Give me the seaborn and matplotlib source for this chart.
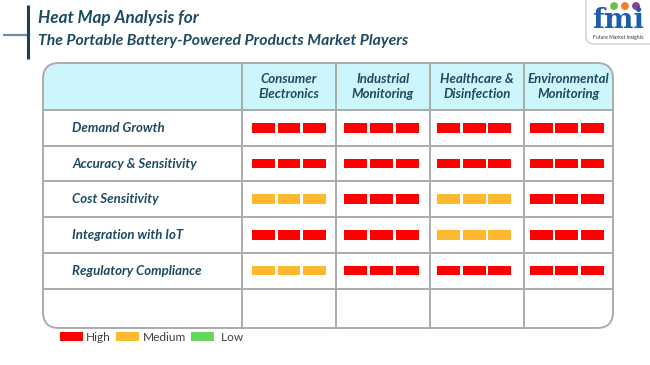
import numpy as np
import pandas as pd
import matplotlib
matplotlib.use("Agg")
import matplotlib.pyplot as plt
from matplotlib.patches import FancyBboxPatch, Rectangle, Patch
import seaborn as sns

sns.set_theme(style="white")
plt.rcParams['font.family'] = ['Lato', 'DejaVu Sans']

# ---------------- data ----------------
title_line1 = "Heat Map Analysis for"
title_line2 = "The Portable Battery-Powered Products Market Players"
segments = ["Consumer\nElectronics", "Industrial\nMonitoring",
            "Healthcare &\nDisinfection", "Environmental\nMonitoring"]
factors = ["Demand Growth", "Accuracy & Sensitivity", "Cost Sensitivity",
           "Integration with IoT", "Regulatory Compliance"]
levels_consumer = ["High", "High", "Medium", "High", "Medium"]
levels_industrial = ["High", "High", "High", "High", "High"]
levels_healthcare = ["High", "High", "Medium", "Medium", "High"]
levels_environmental = ["High", "High", "High", "High", "High"]
level_names = ["High", "Medium", "Low"]
level_colors = {"High": "#FF0000", "Medium": "#FFB92E", "Low": "#66D65E"}

TEXT = "#1E4A62"
GRID = "#ABABAB"

# long table: one row per small bar (three bars per cell)
cols = [levels_consumer, levels_industrial, levels_healthcare, levels_environmental]
records = []
for ci, col in enumerate(cols):
    for ri, lvl in enumerate(col):
        for k in (-1, 0, 1):
            records.append({"x": ci + k * 0.2775, "row": ri, "level": lvl})
df = pd.DataFrame(records)

# ---------------- figure ----------------
W, H = 650, 365
fig = plt.figure(figsize=(W / 100, H / 100), dpi=100)
bg = fig.add_axes([0, 0, 1, 1])
bg.set_xlim(0, W)
bg.set_ylim(H, 0)
bg.axis("off")

# title decoration
bg.plot([3, 28], [35, 35], color="#6E8FA3", lw=1.6, solid_capstyle="butt")
bg.plot([28, 28], [5, 59], color="#1E3F5A", lw=2.2, solid_capstyle="butt")
bg.text(38, 18.5, title_line1, fontsize=12.3, fontweight="bold", fontstyle="italic",
        color=TEXT, va="center", ha="left")
bg.text(38, 40.5, title_line2, fontsize=11.3, fontweight="bold", fontstyle="italic",
        color=TEXT, va="center", ha="left")

# logo
logo = FancyBboxPatch((586, -10), 80, 54, boxstyle="round,pad=0,rounding_size=8",
                      facecolor="white", edgecolor="#C9D3DA", lw=1)
bg.add_patch(logo)
bg.text(618, 20, "fmi", fontsize=20, fontweight="bold", family="DejaVu Serif",
        color="#1C5DB0", ha="center", va="center")
bg.text(618, 38, "Future Market Insights", fontsize=3.6, color="#333333",
        ha="center", va="center")
for cx, c in zip([614, 625, 636], ["#6CC04A", "#F07D2A", "#8E3D97"]):
    bg.add_patch(plt.Circle((cx, 6), 3.2, color=c))

# table geometry (pixels)
tl, tr, tt, tb = 43, 613, 63, 328
hdr_b = 110
row_lines = [110, 145.7, 181.3, 217, 252.7, 288.5]
col_lines = [242, 336, 430, 523.5]

table_bg = FancyBboxPatch((tl, tt), tr - tl, tb - tt,
                          boxstyle="round,pad=0,rounding_size=16",
                          facecolor="white", edgecolor="none")
bg.add_patch(table_bg)
header = FancyBboxPatch((tl, tt), tr - tl, 80,
                        boxstyle="round,pad=0,rounding_size=16",
                        facecolor="#CCF6FC", edgecolor="none")
bg.add_patch(header)
header.set_clip_path(Rectangle((tl, tt), tr - tl, hdr_b - tt, transform=bg.transData))

for y in row_lines:
    bg.plot([tl, tr], [y, y], color=GRID, lw=1.4)
for x in col_lines:
    bg.plot([x, x], [tt, tb], color=GRID, lw=1.4)
outline = FancyBboxPatch((tl, tt), tr - tl, tb - tt,
                         boxstyle="round,pad=0,rounding_size=16",
                         facecolor="none", edgecolor=GRID, lw=1.4)
bg.add_patch(outline)

# header labels
edges = col_lines + [tr]
for i, seg in enumerate(segments):
    cx = (edges[i] + edges[i + 1]) / 2
    bg.text(cx, 86.5, seg, fontsize=9.5, fontweight="bold", fontstyle="italic",
            color=TEXT, ha="center", va="center", linespacing=1.25)

# row labels
for i, f in enumerate(factors):
    cy = (row_lines[i] + row_lines[i + 1]) / 2
    bg.text(72.5, cy, f, fontsize=9.5, fontweight="bold", fontstyle="italic",
            color=TEXT, ha="left", va="center")

# heat-map bars
ax = fig.add_axes([242.7 / W, (H - 288.5) / H, 370.4 / W, (288.5 - 110) / H])
bar_marker = [(-1, -0.42), (1, -0.42), (1, 0.42), (-1, 0.42)]
sns.scatterplot(data=df, x="x", y="row", hue="level", palette=level_colors,
                marker=bar_marker, s=16.5 ** 2, linewidth=0, legend=False, ax=ax)
ax.set_xlim(-0.5, 3.5)
ax.set_ylim(4.5, -0.5)
ax.axis("off")
ax.patch.set_alpha(0)

# legend
handles = [Patch(facecolor=level_colors[n], edgecolor="none") for n in level_names]
fig.legend(handles, ["High", "Medium", " Low"], loc="upper left",
           bbox_to_anchor=(60 / W, 1 - 332 / H), ncol=3, frameon=False,
           fontsize=8.6, handlelength=1.9, handleheight=0.8, handletextpad=0.3,
           columnspacing=0.45, borderpad=0, borderaxespad=0, labelcolor="#404040")

fig.savefig("out.png", dpi=100)
